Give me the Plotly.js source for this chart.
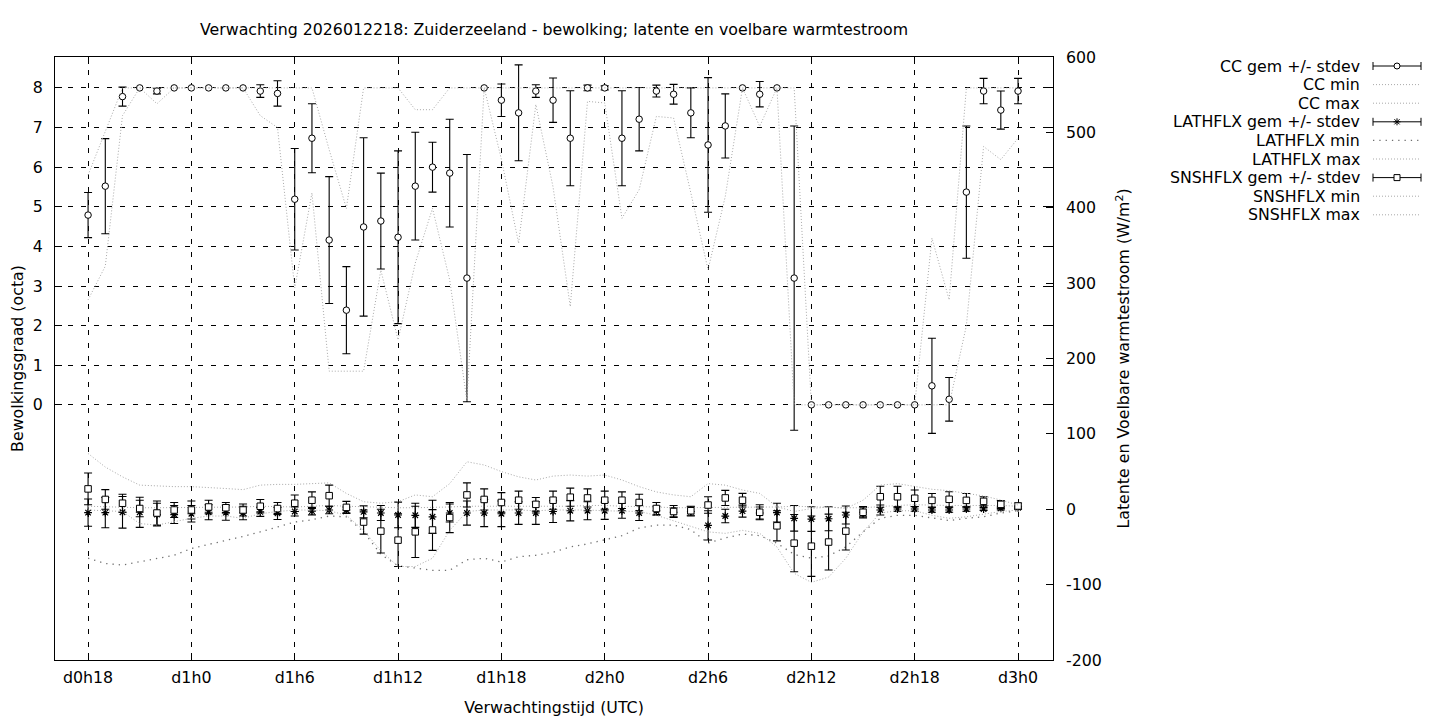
<!DOCTYPE html>
<html>
<head>
<meta charset="utf-8">
<script src="https://cdn.plot.ly/plotly-3.0.1.min.js"></script>
<style>
  html, body { margin: 0; padding: 0; background: #ffffff; }
  #chart { width: 1440px; height: 720px; }
</style>
</head>
<body>
<div id="chart"></div>
<script>
// ---- data (hours since forecast base; d0h18 = 18) ----
const hours = [18,19,20,21,22,23,24,25,26,27,28,29,30,31,32,33,34,35,36,37,38,39,40,41,42,43,44,45,46,47,48,49,50,51,52,53,54,55,56,57,58,59,60,61,62,63,64,65,66,67,68,69,70,71,72];
const tickHours = [18,24,30,36,42,48,54,60,66,72];
const tickLabels = ["d0h18","d1h0","d1h6","d1h12","d1h18","d2h0","d2h6","d2h12","d2h18","d3h0"];
const octaTicks = [0,1,2,3,4,5,6,7,8];
const fluxTicks = [-200,-100,0,100,200,300,400,500,600];
const fluxTickLabels = ["-200","-100","0","100","200","300","400","500","600"];

// Cloud cover (octa)
const ccMean = [4.79,5.52,7.78,8,7.92,8,8,8,8,8,7.92,7.86,
                5.19,6.73,4.16,2.39,4.49,4.64,4.23,5.52,6.0,5.85,3.2,8,
                7.69,7.37,7.92,7.69,6.73,8.0,8.0,6.73,7.21,7.92,7.84,7.37,
                6.56,7.04,8,7.84,8,3.2,0,0,0,0,0,0,
                0,0.48,0.14,5.37,7.92,7.44,7.92];
const ccSd   = [0.57,1.2,0.24,0,0.07,0,0,0,0,0,0.16,0.32,
                1.28,0.87,1.6,1.1,2.25,1.21,2.18,1.36,0.63,1.36,3.12,0,
                0.41,1.21,0.16,0.56,1.2,0.07,0.05,1.2,0.8,0.15,0.25,0.63,
                1.7,0.81,0,0.32,0,3.84,0,0,0,0,0,0,
                0,1.2,0.55,1.67,0.32,0.48,0.32];
const ccMin  = [2.65,3.5,7.3,8,7.6,8,8,8,8,8,7.3,7.0,
                2.95,5.35,0.85,0.85,0.85,3.4,1.64,3.58,4.96,3.15,0.1,8,
                6.2,4.08,7.58,5.5,2.48,7.66,7.62,4.71,5.43,7.28,7.24,5.35,
                3.41,5.26,8,7.03,8,0,0,0,0,0,0,0,
                0,0,0,2.0,6.52,6.19,6.73];
const ccMax  = [5.8,6.9,8,8,8,8,8,8,8,8,8,8,
                8,8,6.44,4.96,8,8,8,7.45,7.45,8,8,8,
                8,8,8,8,8,8,8,8,8,8,8,8,
                8,8,8,8,8,8,0,0,0,0,0,0,
                0,4.21,2.65,8,8,8,8];

// Latent heat flux (W/m2)
const lhMean = [-4.5,-4.5,-4,-4,-7,-7,-6,-4,-4.5,-5,-3.5,-5.5,
                -3,-2.5,-1,-1,-3.5,-5,-7.6,-8,-10,-5,-5,-5,
                -6,-5,-5,-3,-2,-2,-2,-2,-5,-2,-4,-3,
                -21.4,-9,-2.5,-5,-4.5,-12,-13,-12.6,-7.6,-4,-1,0.3,
                0.3,-1,-1,0.3,0.3,1.2,2];
const lhSd   = [18,20,21,20,15,12,11,10,10,9,6,8,
                6,5,5,4,8,10,17,16,22,12,16,18,
                17,15,15,14.5,13.4,12,11.4,10,10,6,6,6,
                19.4,9,8,8,12.4,17,16.4,16,12,6,6.6,3,
                3,3,3,3,2,2,2];
const lhMin  = [-65,-72,-74,-70,-65,-61,-52,-47,-41,-36,-30,-24,
                -17,-14,-9,-10,-30,-60,-75,-78,-81,-81,-67,-65,
                -70,-63,-61,-57,-50,-46,-41,-35,-25,-21,-21,-27,
                -45,-38,-33,-35,-45,-60,-65,-62,-50,-30,-12,-8,
                -8,-12,-15,-12,-10,-5,-2];
const lhMax  = [4,3,3,2,2,2,3,3,2,3,4,3,
                3,4,5,4,3,2,2,2,2,3,4,4,
                3,3,3,4,4,5,5,4,4,3,2,2,
                2,3,2,2,3,4,3,2,2,2,4,5,
                6,5,5,5,5,5,4];

// Sensible heat flux (W/m2)
const shMean = [27,13,8,1,-5,-1,-1,3,2,-1,4,1,
                8,12,18,2.5,-17,-29,-41,-30,-27.5,-11,19,13,
                9,12,6.5,12,16,15,12,12,9,1,-3,-2,
                5.6,15,12,-4,-22,-45,-49,-43.5,-29,-4,16.6,16.6,
                14.6,11.8,13.2,11.8,10.5,6.5,4.3];
const shSd   = [21,13,12,11,16,10,12,9,7,8,9,8,
                11,11,14,8,16,29,35,34,27,20,16,14,
                13,12,9,12,12,12,12,11,11,8,8,6,
                11,10,9,10,20,38,40,37,25,7.5,14,14,
                11,9,10,9,6,5,4];
const shMin  = [-1,-2,-3,-19,-21,-16.5,-12,-9,-9,-12,-6,-3,
                -1,-1,-2,-8,-28,-55,-76,-76,-65,-28,-3,-1,
                -1,-1,-2,-1,-1,-1,-2,-2,-3,-8,-15,-22,
                -30,-32,-28,-32,-50,-85,-97,-90,-65,-30,-5,-2,
                -2,-8,-12,-10,-6,-3,-1];
const shMax  = [74,56,43,32,31,30,30,29,27.5,26,32,33,
                33,34,35,21,10,8,10,19,16.6,34,63,58.7,
                50,43,38.8,44,45.4,44,45.4,38.8,30,23,19,16.6,
                34,32,25.5,21,3.4,-3,1,3,1,12,32,34,
                30,26.5,24.6,21,17.6,12.3,5.6];

const legendLabels = ["CC gem +/- stdev","CC min","CC max",
                      "LATHFLX gem +/- stdev","LATHFLX min","LATHFLX max",
                      "SNSHFLX gem +/- stdev","SNSHFLX min","SNSHFLX max"];

// ---- styling ----
const FONT = 'DejaVu Sans, Liberation Sans, sans-serif';
const FS = 15.8;
const GRAY = '#a9a9a9';
const dotted = {color: GRAY, width: 1, dash: '1px,2px'};
const sparse = {color: '#707070', width: 1.3, dash: '1.3px,5px'};
const noZero = v => (v > 0 ? v : NaN);

// plot area in pixels
const PL = 55, PR = 1053, PT = 57, PB = 660;
const px = p => (p - PL) / (PR - PL);
const py = p => (PB - p) / (PB - PT);

function errTrace(y, sd, symbol, fill, yaxis) {
  const ast = symbol.startsWith('asterisk');
  return {
    x: hours, y: y, yaxis: yaxis, type: 'scatter', mode: 'markers',
    marker: {symbol: symbol, size: 6.5,
             color: fill, line: {color: 'black', width: ast ? 1.2 : 1}},
    error_y: {type: 'data', array: sd.map(noZero), visible: true,
              color: 'black', thickness: 1.1, width: 4},
    hoverinfo: 'x+y', showlegend: false
  };
}
function lineTrace(y, style, yaxis) {
  return {x: hours, y: y, yaxis: yaxis, type: 'scatter', mode: 'lines',
          line: style, hoverinfo: 'x+y', showlegend: false};
}

const traces = [
  errTrace(ccMean, ccSd, 'circle', 'white', 'y'),
  lineTrace(ccMin, dotted, 'y'),
  lineTrace(ccMax, dotted, 'y'),
  errTrace(lhMean, lhSd, 'asterisk-open', 'black', 'y2'),
  lineTrace(lhMin, sparse, 'y2'),
  lineTrace(lhMax, dotted, 'y2'),
  errTrace(shMean, shSd, 'square', 'white', 'y2'),
  lineTrace(shMin, dotted, 'y2'),
  lineTrace(shMax, dotted, 'y2')
];

// ---- gnuplot-style key (text right, sample left of it) ----
const shapes = [];
const annotations = [];
const keyTextRight = 1362, s0 = 1373, s1 = 1421, sm = 1397;
const rowY = [66, 84.6, 103.2, 121.8, 140.4, 159, 177.6, 196.2, 214.8];
const rowKind = ['circle','dot','dot','asterisk','sparse','dot','square','dot','dot'];
rowY.forEach((ry, i) => {
  annotations.push({xref: 'paper', yref: 'paper', x: px(keyTextRight), y: py(ry),
    xanchor: 'right', yanchor: 'middle', showarrow: false, text: legendLabels[i],
    font: {family: FONT, size: FS, color: 'black'}});
  const kind = rowKind[i];
  if (kind === 'dot' || kind === 'sparse') {
    const st = kind === 'dot' ? dotted : sparse;
    shapes.push({type: 'line', xref: 'paper', yref: 'paper', x0: px(s0), x1: px(s1),
      y0: py(ry), y1: py(ry), line: st});
  } else {
    const L = {color: 'black', width: 1};
    shapes.push({type: 'line', xref: 'paper', yref: 'paper', x0: px(s0), x1: px(s1), y0: py(ry), y1: py(ry), line: L});
    shapes.push({type: 'line', xref: 'paper', yref: 'paper', x0: px(s0), x1: px(s0), y0: py(ry - 4), y1: py(ry + 4), line: L});
    shapes.push({type: 'line', xref: 'paper', yref: 'paper', x0: px(s1), x1: px(s1), y0: py(ry - 4), y1: py(ry + 4), line: L});
    if (kind === 'circle') {
      shapes.push({type: 'circle', xref: 'paper', yref: 'paper', x0: px(sm - 3), x1: px(sm + 3),
        y0: py(ry - 3), y1: py(ry + 3), line: L, fillcolor: 'white'});
    } else if (kind === 'square') {
      shapes.push({type: 'rect', xref: 'paper', yref: 'paper', x0: px(sm - 3), x1: px(sm + 3),
        y0: py(ry - 3), y1: py(ry + 3), line: L, fillcolor: 'white'});
    } else {
      const r = 3.5, d = 2.6;
      [[-r,0,r,0],[0,-r,0,r],[-d,-d,d,d],[-d,d,d,-d]].forEach(s => {
        shapes.push({type: 'line', xref: 'paper', yref: 'paper', x0: px(sm + s[0]), x1: px(sm + s[2]),
          y0: py(ry + s[1]), y1: py(ry + s[3]), line: L});
      });
    }
  }
});

const axisCommon = {
  showline: true, linecolor: 'black', linewidth: 1,
  ticks: 'inside', ticklen: 7, tickcolor: 'black', tickwidth: 1,
  zeroline: false, tickfont: {family: FONT, size: FS, color: 'black'}
};

const layout = {
  width: 1440, height: 720,
  margin: {l: PL, r: 1440 - PR, t: PT, b: 720 - PB, pad: 0},
  paper_bgcolor: 'white', plot_bgcolor: 'white',
  showlegend: false,
  font: {family: FONT, size: FS, color: 'black'},
  title: {text: 'Verwachting 2026012218: Zuiderzeeland - bewolking; latente en voelbare warmtestroom',
          font: {family: FONT, size: FS, color: 'black'},
          xref: 'paper', x: 0.5, xanchor: 'center',
          yref: 'container', y: 1 - 29 / 720, yanchor: 'middle'},
  xaxis: Object.assign({}, axisCommon, {
    range: [16.08, 74.03], tickmode: 'array', tickvals: tickHours, ticktext: tickLabels,
    mirror: 'ticks', showgrid: true, gridcolor: 'black', gridwidth: 1, griddash: '5px,8px',
    ticklabelstandoff: 3,
    title: {text: 'Verwachtingstijd (UTC)', font: {family: FONT, size: FS, color: 'black'}, standoff: 15}
  }),
  yaxis: Object.assign({}, axisCommon, {
    range: [-6.44, 8.78], tickmode: 'array', tickvals: octaTicks,
    mirror: 'ticks', showgrid: true, gridcolor: 'black', gridwidth: 1, griddash: '5px,8px',
    ticklabelstandoff: 8,
    title: {text: 'Bewolkingsgraad (octa)', font: {family: FONT, size: FS, color: 'black'}, standoff: 5}
  }),
  yaxis2: Object.assign({}, axisCommon, {
    overlaying: 'y', side: 'right', range: [-200, 600], tickmode: 'array',
    tickvals: fluxTicks, ticktext: fluxTickLabels,
    showgrid: false, showline: false, ticklabelstandoff: 12,
    title: {text: 'Latente en Voelbare warmtestroom (W/m<sup>2</sup>)', font: {family: FONT, size: FS, color: 'black'}, standoff: 17}
  }),
  shapes: shapes,
  annotations: annotations
};

Plotly.newPlot('chart', traces, layout, {displayModeBar: false, staticPlot: true});
</script>
</body>
</html>
